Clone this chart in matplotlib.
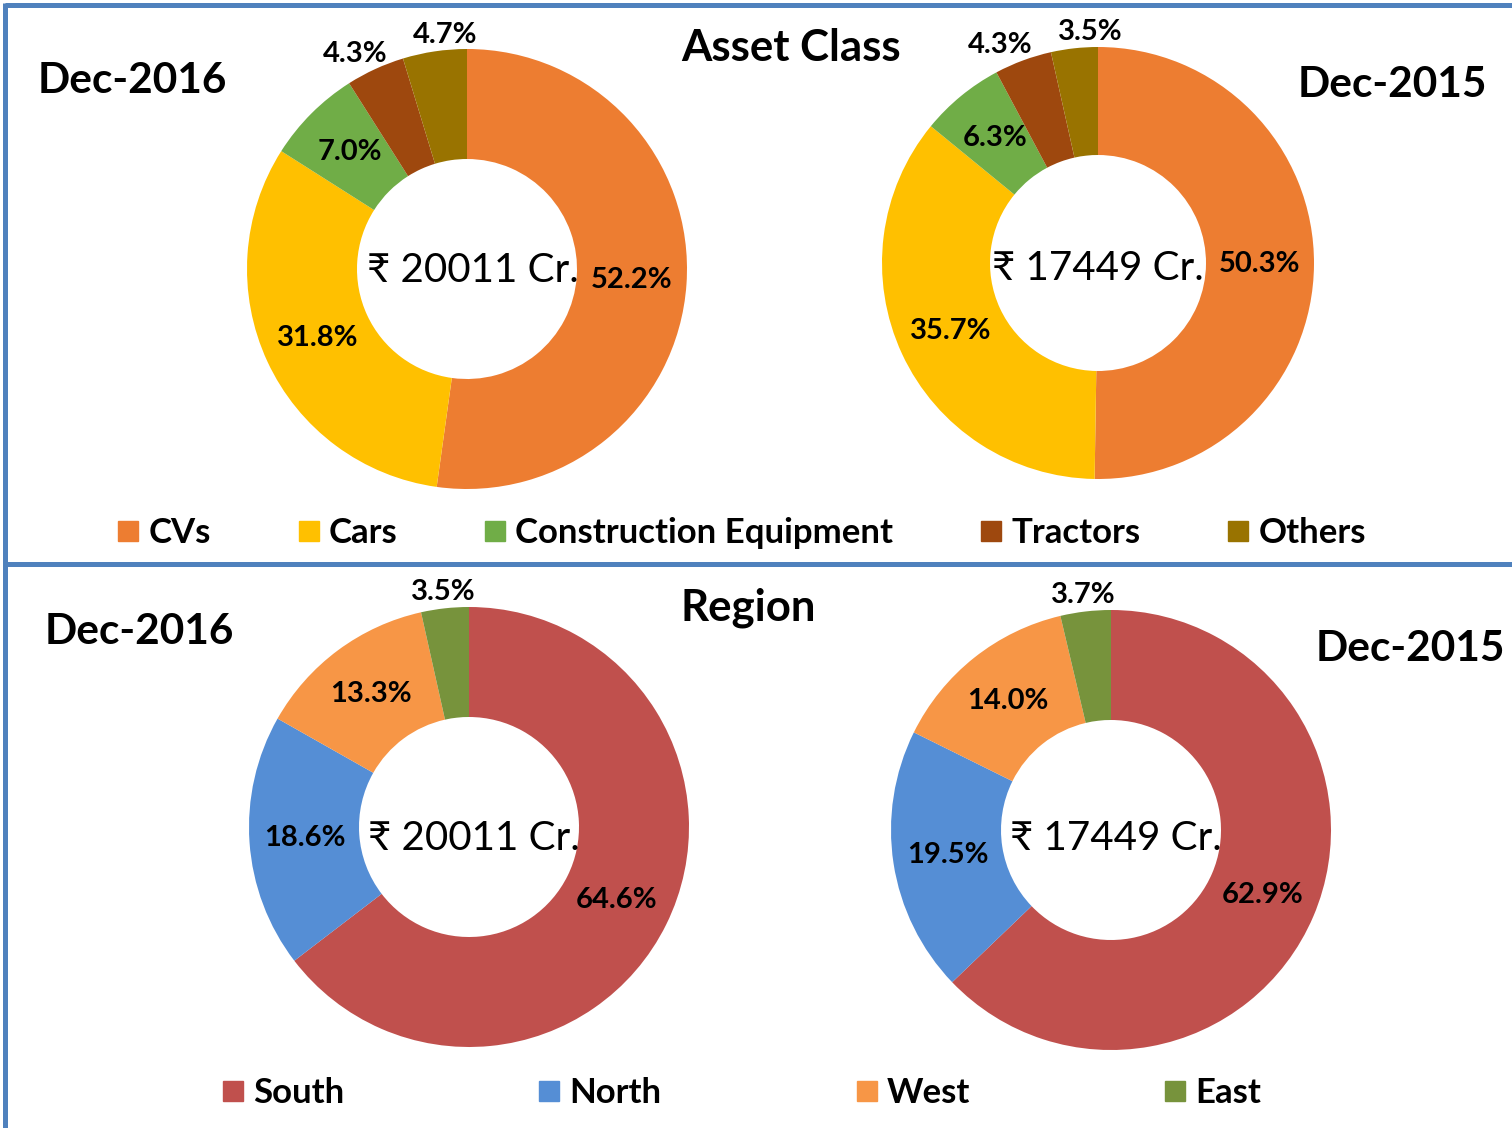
import matplotlib
matplotlib.use('Agg')
import matplotlib.pyplot as plt
from matplotlib.lines import Line2D
import numpy as np

# ---------------- data ----------------
asset_labels = ['CVs', 'Cars', 'Construction Equipment', 'Tractors', 'Others']
asset_dec2016 = [52.2, 31.8, 7.0, 4.3, 4.7]
asset_dec2015 = [50.3, 35.7, 6.3, 4.3, 3.5]
asset_colors = ['#ED7D31', '#FFC000', '#70AD47', '#9E480E', '#997300']

region_labels = ['South', 'North', 'West', 'East']
region_dec2016 = [64.6, 18.6, 13.3, 3.5]
region_dec2015 = [62.9, 19.5, 14.0, 3.7]
region_colors = ['#C0504D', '#558ED5', '#F79646', '#77933C']

totals = ['₹ 20011 Cr.', '₹ 17449 Cr.']
periods = ['Dec-2016', 'Dec-2015']
section_titles = ['Asset Class', 'Region']

# ---------------- layout ----------------
W, H = 1512, 1128
FONT = ['Lato', 'DejaVu Sans']
BORDER = '#4F81BD'

fig = plt.figure(figsize=(W / 100, H / 100), dpi=100)
ax = fig.add_axes([0, 0, 1, 1])


def Y(y):
    return H - y


def donut(values, colors, cx, cy, R, total_text, tx, ty):
    wedges, _ = ax.pie(values, colors=colors, startangle=90, counterclock=False,
                       radius=R, center=(cx, Y(cy)),
                       wedgeprops=dict(width=R * 0.5, edgecolor='none', linewidth=0))
    inside, outside = [], []
    for w, v in zip(wedges, values):
        th = np.deg2rad((w.theta1 + w.theta2) / 2)
        if v >= 5:
            r = 0.75 * R
            inside.append([cx + r * np.cos(th), Y(cy) + r * np.sin(th), v])
        else:
            r = 1.075 * R
            outside.append([cx + r * np.cos(th), Y(cy) + r * np.sin(th), v])
    # push neighbouring outside labels apart so they do not crowd
    if len(outside) == 2:
        outside.sort(key=lambda p: p[0])
        mid = (outside[0][0] + outside[1][0]) / 2
        gap = max(90, outside[1][0] - outside[0][0])
        outside[0][0] = mid - gap / 2
        outside[1][0] = mid + gap / 2
    for x, y, v in inside + outside:
        ax.text(x, y, f'{v:.1f}%', ha='center', va='center', fontsize=21,
                fontweight='bold', family=FONT, color='black')
    ax.text(tx, Y(ty), total_text, ha='center', va='center', fontsize=29,
            family=FONT, color='black')
    return wedges


donut(asset_dec2016, asset_colors, 467, 269, 220, totals[0], 473, 270)
donut(asset_dec2015, asset_colors, 1098, 263, 216, totals[1], 1098, 268)
donut(region_dec2016, region_colors, 469, 827, 220, totals[0], 474, 838)
donut(region_dec2015, region_colors, 1111, 830, 220, totals[1], 1116, 838)

ax.set_xlim(0, W)
ax.set_ylim(0, H)
ax.set_aspect('equal', adjustable='datalim')
ax.axis('off')

# borders
lw = 5 * 72 / 100
ax.plot([5, W], [Y(5), Y(5)], color=BORDER, lw=lw, solid_capstyle='butt')
ax.plot([5, 5], [Y(3), 0], color=BORDER, lw=lw, solid_capstyle='butt')
ax.plot([5, W], [Y(564), Y(564)], color=BORDER, lw=lw, solid_capstyle='butt')

# titles
TFS = 30.5
ax.text(791, Y(48), section_titles[0], ha='center', va='center', fontsize=31.5,
        fontweight='bold', family=FONT)
ax.text(748, Y(608), section_titles[1], ha='center', va='center', fontsize=31.5,
        fontweight='bold', family=FONT)
ax.text(132, Y(81), periods[0], ha='center', va='center', fontsize=TFS,
        fontweight='bold', family=FONT)
ax.text(1392, Y(85), periods[1], ha='center', va='center', fontsize=TFS,
        fontweight='bold', family=FONT)
ax.text(139, Y(632), periods[0], ha='center', va='center', fontsize=TFS,
        fontweight='bold', family=FONT)
ax.text(1410, Y(649), periods[1], ha='center', va='center', fontsize=TFS,
        fontweight='bold', family=FONT)

# legends
LFS = 25
lfs_px = LFS * 100 / 72


def make_legend(labels, colors, yimg, xcenter, colspace_px):
    handles = [Line2D([], [], ls='none', marker='s', markersize=20 * 72 / 100,
                      markerfacecolor=c, markeredgecolor=c) for c in colors]
    leg = fig.legend(handles, labels, loc='center',
                     bbox_to_anchor=(xcenter / W, 1 - yimg / H), ncol=len(labels),
                     frameon=False, handlelength=20 / lfs_px,
                     handletextpad=10 / lfs_px, columnspacing=colspace_px / lfs_px,
                     borderpad=0, borderaxespad=0,
                     prop=dict(family=FONT, weight='bold', size=LFS))
    return leg


make_legend(asset_labels, asset_colors, 533, 742, 88)
make_legend(region_labels, region_colors, 1093, 742, 195)

fig.savefig('out.png', dpi=100)
